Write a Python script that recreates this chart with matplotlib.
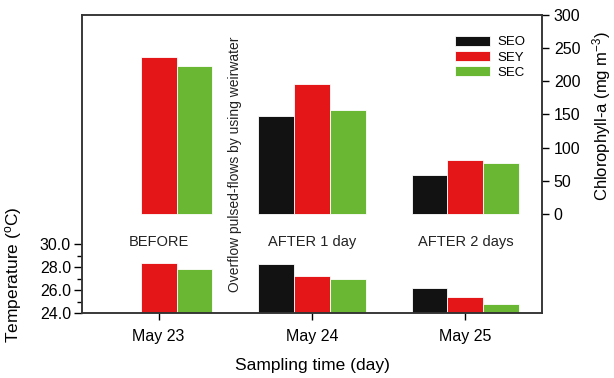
import matplotlib
matplotlib.use("Agg")
import matplotlib.pyplot as plt
import numpy as np

plt.rcParams['font.family'] = ['Liberation Sans', 'DejaVu Sans']

# data
dates = ['May 23', 'May 24', 'May 25']
phases = ['BEFORE', 'AFTER 1 day', 'AFTER 2 days']
series = ['SEO', 'SEY', 'SEC']
colors = ['#121212', '#e41618', '#6ab734']

# temperature (oC), None = no bar
temp_seo = [None, 28.25, 26.16]
temp_sey = [28.34, 27.23, 25.37]
temp_sec = [27.84, 26.94, 24.76]

# chlorophyll-a (mg m-3)
chl_seo = [None, 147.7, 59.3]
chl_sey = [236.0, 196.0, 81.0]
chl_sec = [223.6, 156.8, 77.4]

temps = [temp_seo, temp_sey, temp_sec]
chls = [chl_seo, chl_sey, chl_sec]

fig = plt.figure(figsize=(6.14, 3.78), dpi=100)
ax = fig.add_axes([82/614, 1 - 313/378, 460/614, 298/378])
ax2 = ax.twinx()

x = np.arange(len(dates))
w = 0.233
for i, (name, col) in enumerate(zip(series, colors)):
    off = (i - 1) * w
    tv = [np.nan if v is None else v - 24 for v in temps[i]]
    cv = [np.nan if v is None else v for v in chls[i]]
    ax.bar(x + off, tv, w, bottom=24, color=col, edgecolor='white', linewidth=0.6)
    ax2.bar(x + off, cv, w, color=col, edgecolor='white', linewidth=0.6, label=name)

ax.set_xlim(-0.5, 2.5)
ax.set_ylim(24, 50)
ax2.set_ylim(-149.3, 300)

ax.set_xticks(x)
ax.set_xticklabels(dates, fontsize=11.5)
ax.set_yticks([24, 26, 28, 30])
ax.set_yticklabels(['24.0', '26.0', '28.0', '30.0'], fontsize=11.5)
ax.set_yticks([25, 27, 29], minor=True)
ax.tick_params(axis='y', which='major', length=6, width=1, direction='out', pad=2)
ax.tick_params(axis='y', which='minor', length=3.5, width=1, direction='out')
ax.tick_params(axis='x', length=5, width=1, direction='out', pad=6.5)

ax2.set_yticks(np.arange(0, 301, 50))
ax2.tick_params(axis='y', labelsize=11.5, length=5, width=1, direction='out')

for a in (ax, ax2):
    for s in a.spines.values():
        s.set_color('#333333')
        s.set_linewidth(1.1)

ax.set_xlabel('Sampling time (day)', fontsize=12.5, labelpad=10)
ax.set_ylabel(r'Temperature ($\mathregular{^{o}}$C)', fontsize=12.5)
ax.yaxis.set_label_coords(-0.126, 0.128)
ax2.set_ylabel(r'Chlorophyll-a (mg m$\mathregular{^{-3}}$)', fontsize=12)
ax2.yaxis.set_label_coords(1.104, 0.66)

for xi, ph in zip(x, phases):
    ax2.text(xi, -42, ph, ha='center', va='center', fontsize=10.5, color='#222222')

ax2.text(0.5, 75, 'Overflow pulsed-flows by using weirwater', rotation=90,
         ha='center', va='center', fontsize=10, color='#222222')

ax2.legend(loc='upper right', bbox_to_anchor=(0.99, 0.97), frameon=False,
           fontsize=9.5, handlelength=2.6, handleheight=0.8, labelspacing=0.2,
           handletextpad=0.6)

fig.savefig('out.png', dpi=100)
